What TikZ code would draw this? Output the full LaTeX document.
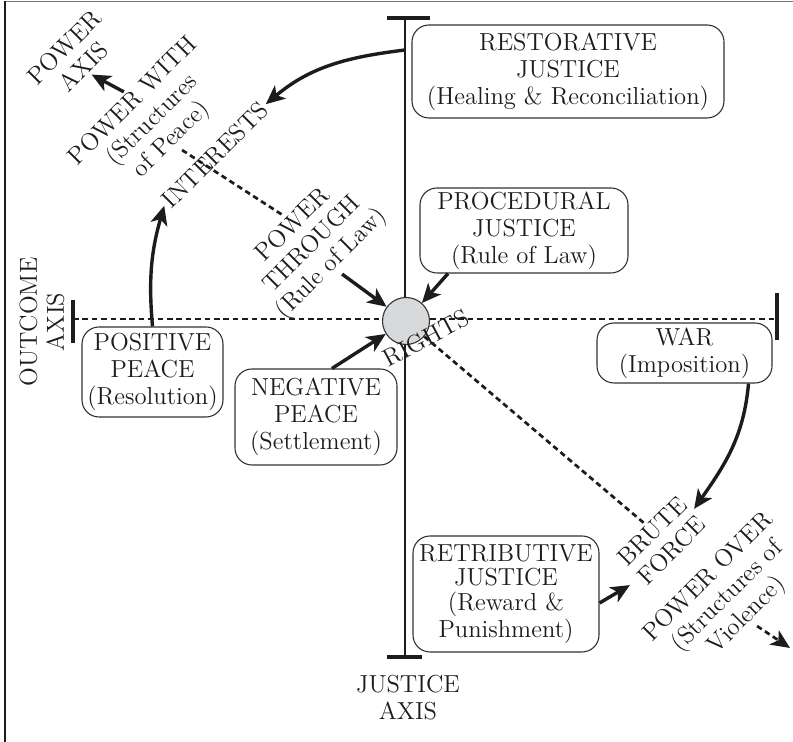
\documentclass[tikz,border=0pt]{standalone}
\usepackage{xcolor}
\usepackage{tikz}
\usetikzlibrary{arrows.meta, positioning, calc}
\definecolor{mydark}{RGB}{30,27,28}
\definecolor{myframe}{RGB}{120,120,120}
\definecolor{myedge}{RGB}{50,50,50}
\definecolor{mycircle}{RGB}{216,217,219}
\tikzset{
  block/.style={rectangle, draw=myedge, fill=white, align=center,
    rounded corners=8.5pt, line width=0.55pt, inner sep=1pt},
  tag/.style={rotate=45, align=center, inner sep=1pt},
  arrow/.style={-{Stealth[length=9.5pt, width=8.5pt, inset=2.5pt]}, line width=1.7pt, color=mydark},
  axisline/.style={line width=1.3pt, color=mydark},
  bar/.style={line width=1.7pt, color=mydark},
  dashline/.style={line width=1.35pt, color=mydark, dash pattern=on 2.8pt off 1.9pt}
}

\begin{document}
\begin{tikzpicture}[x=0.5pt, y=0.5pt, font=\fontsize{12.3}{13.5}\selectfont, text=mydark]
  \useasboundingbox (0,0) rectangle (793,742);

  % Frame
  \draw[line width=0.6pt, myframe] (5,740.5) -- (793,740.5);
  \draw[line width=1pt, mydark] (5,0) -- (5,741);

  % Axes
  \coordinate (jtop) at (405,724);
  \coordinate (jbot) at (405,85);
  \coordinate (oleft) at (73,423);
  \coordinate (oright) at (777,423);
  \draw[axisline] (jtop) -- (jbot);
  \draw[bar] ([xshift=-9pt]jtop) -- ([xshift=12.5pt]jtop);
  \draw[bar] ([xshift=-9pt]jbot) -- ([xshift=8.5pt]jbot);
  \draw[dashline] (oleft) -- (oright);
  \draw[bar] ([yshift=9.5pt]oleft) -- ([yshift=-12pt]oleft);
  \draw[bar] ([yshift=13pt]oright) -- ([yshift=-10.5pt]oright);

  % Boxes
  \node[block, minimum width=156pt, minimum height=46.5pt] (restor) at (568,670.5) {RESTORATIVE\\JUSTICE\\(Healing \& Reconciliation)};
  \node[block, minimum width=104pt, minimum height=42.5pt] (proced) at (524,511.5) {PROCEDURAL\\JUSTICE\\(Rule of Law)};
  \node[block, minimum width=70.5pt, minimum height=45pt] (pospeace) at (152.5,370) {POSITIVE\\PEACE\\(Resolution)};
  \node[block, minimum width=81pt, minimum height=48pt] (negpeace) at (316,325) {NEGATIVE\\PEACE\\(Settlement)};
  \node[block, minimum width=87.5pt, minimum height=30pt] (war) at (684.5,389) {WAR\\(Imposition)};
  \node[block, minimum width=93pt, minimum height=58pt, font=\fontsize{12.3}{12.3}\selectfont] (retrib) at (506,148) {RETRIBUTIVE\\JUSTICE\\(Reward \&\\Punishment)};

  % Rights
  \node[circle, draw=myedge, fill=mycircle, line width=0.55pt, minimum size=23.5pt] (rights) at (406,421) {};
  \node[rotate=28, inner sep=0pt] (rightslbl) at (426,404) {RIGHTS};

  % Power axis labels
  \node[tag] (poweraxis) at (74,685) {POWER\\AXIS};
  \node[tag] (powerwith) at (153,621) {POWER WITH\\(Structures\\of Peace)};
  \node[tag] (interests) at (215,587) {INTERESTS};
  \node[tag] (powthrough) at (313,497) {POWER\\THROUGH\\(Rule of Law)};
  \node[tag] (bruteforce) at (662,201) {BRUTE\\FORCE};
  \node[tag] (powerover) at (728,145) {POWER OVER\\(Structures of\\Violence)};
  \coordinate (violence) at (790,94);

  % Axis names
  \node[rotate=90, align=center] (outcome) at (42,420) {OUTCOME\\AXIS};
  \node[align=center] (justice) at (408,44) {JUSTICE\\AXIS};

  % Power axis
  \draw[arrow] (powerwith.north) -- (poweraxis.south);
  \draw[dashline] (powerwith.south) -- (powthrough.north);
  \draw[dashline] (rights) -- (bruteforce.north);
  \draw[dashline, -{Stealth[length=9.5pt, width=8.5pt, inset=2.5pt]}] (powerover.south) -- (violence);

  % Arrows into rights
  \draw[arrow] (powthrough.south) -- (rights);
  \draw[arrow] ([xshift=-38pt]proced.south) -- (rights);
  \draw[arrow] ([xshift=8pt]negpeace.north) -- (rights);

  % Curved arrows
  \coordinate (heal) at (405,692);
  \draw[arrow] (heal) to[out=187, in=40] (interests.east);
  \draw[arrow] (pospeace.north) to[out=95, in=254] (interests.west);
  \draw[arrow] ([xshift=32pt]war.south) to[out=265, in=55] (bruteforce.east);
  \draw[arrow] ([yshift=-4.5pt]retrib.east) -- ([yshift=-6pt]bruteforce.west);
\end{tikzpicture}
\end{document}
